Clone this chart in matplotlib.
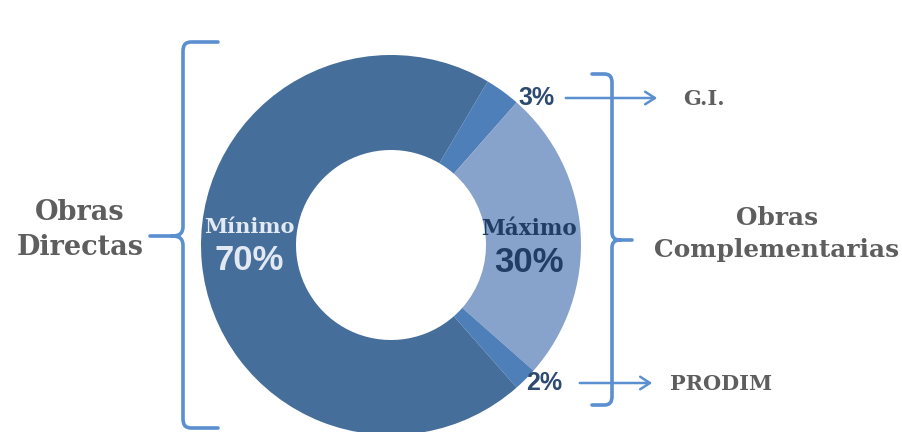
import matplotlib
matplotlib.use('Agg')
import matplotlib.pyplot as plt
from matplotlib.path import Path
from matplotlib.patches import PathPatch

W, H = 903, 432

# slice order: clockwise from the upper-right G.I. wedge
parts = ['G.I.', 'Máximo', 'PRODIM', 'Mínimo']
shares = [3, 25, 2, 70]
colors = ['#4f7fb8', '#87a3cc', '#4f7fb8', '#456e9b']

summary_labels = ['Mínimo', 'Máximo']
summary_values = [70, 30]
side_labels = ['Obras\nDirectas', 'Obras\nComplementarias']

BLUE = '#5b8fd0'
GRAY = '#5e5e5e'
SERIF = 'DejaVu Serif'
SANS = 'Liberation Sans'


def Y(py):
    return H - py


fig = plt.figure(figsize=(W / 100, H / 100), dpi=100)
ax = fig.add_axes([0, 0, 1, 1])
cx, cy, R = 391, 245, 190
ax.pie(shares, colors=colors, startangle=59.4, counterclock=False,
       center=(cx, Y(cy)), radius=R,
       wedgeprops=dict(width=R * 0.5, linewidth=0))
ax.set_xlim(0, W)
ax.set_ylim(0, H)
ax.set_aspect('equal')
ax.axis('off')


def brace(pts_codes):
    verts = [(x, Y(y)) for x, y in pts_codes[0]]
    ax.add_patch(PathPatch(Path(verts, pts_codes[1]), fill=False,
                           edgecolor=BLUE, lw=2.6, capstyle='round'))


M, L, C = Path.MOVETO, Path.LINETO, Path.CURVE4
# left brace, opening to the right
brace(([(218, 42), (192, 42), (185, 42), (183, 45), (183, 52),
        (183, 226), (183, 233), (180, 236), (172, 236), (150, 236),
        (172, 236), (180, 236), (183, 239), (183, 246),
        (183, 418), (183, 425), (185, 428), (192, 428), (218, 428)],
       [M, L, C, C, C, L, C, C, C, L, M, C, C, C, L, C, C, C, L]))
# right brace, opening to the left
brace(([(592, 74), (604, 74), (610, 74), (612, 77), (612, 83),
        (612, 232), (612, 237), (614, 240), (620, 240), (632, 240),
        (620, 240), (614, 240), (612, 243), (612, 248),
        (612, 396), (612, 402), (610, 405), (604, 405), (592, 405)],
       [M, L, C, C, C, L, C, C, C, L, M, C, C, C, L, C, C, C, L]))

# small-slice values with arrows to their names
for pct, px, py, x0, x1, name, nx in [(shares[0], 537, 98, 563, 660, parts[0], 683),
                                       (shares[2], 544, 383, 577, 655, parts[2], 670)]:
    ax.text(px, Y(py), f'{pct}%', ha='center', va='center', fontsize=18,
            fontweight='bold', family=SANS, color='#2d4a70')
    ax.annotate('', xy=(x1, Y(py)), xytext=(x0, Y(py)),
                arrowprops=dict(arrowstyle='->,head_length=0.7,head_width=0.45',
                                color=BLUE, lw=1.8))
    ax.text(nx, Y(py + 1), name, ha='left', va='center', fontsize=15,
            fontweight='bold', family=SERIF, color=GRAY)

# labels inside the ring
ax.text(249, Y(227), summary_labels[0], ha='center', va='center', fontsize=15,
        fontweight='bold', family=SERIF, color='#e2e9f2')
ax.text(249, Y(261), f'{summary_values[0]}%', ha='center', va='center', fontsize=25,
        fontweight='bold', family=SANS, color='#e2e9f2')
ax.text(529, Y(229), summary_labels[1], ha='center', va='center', fontsize=15.5,
        fontweight='bold', family=SERIF, color='#213d66')
ax.text(529, Y(262), f'{summary_values[1]}%', ha='center', va='center', fontsize=25,
        fontweight='bold', family=SANS, color='#213d66')

# group names beside the braces
ax.text(80, Y(230), side_labels[0], ha='center', va='center', fontsize=19.5,
        fontweight='bold', family=SERIF, color=GRAY, linespacing=1.4)
ax.text(777, Y(234), side_labels[1], ha='center', va='center', fontsize=17.8,
        fontweight='bold', family=SERIF, color=GRAY, linespacing=1.4)

fig.savefig('out.png', dpi=100, facecolor='white')
